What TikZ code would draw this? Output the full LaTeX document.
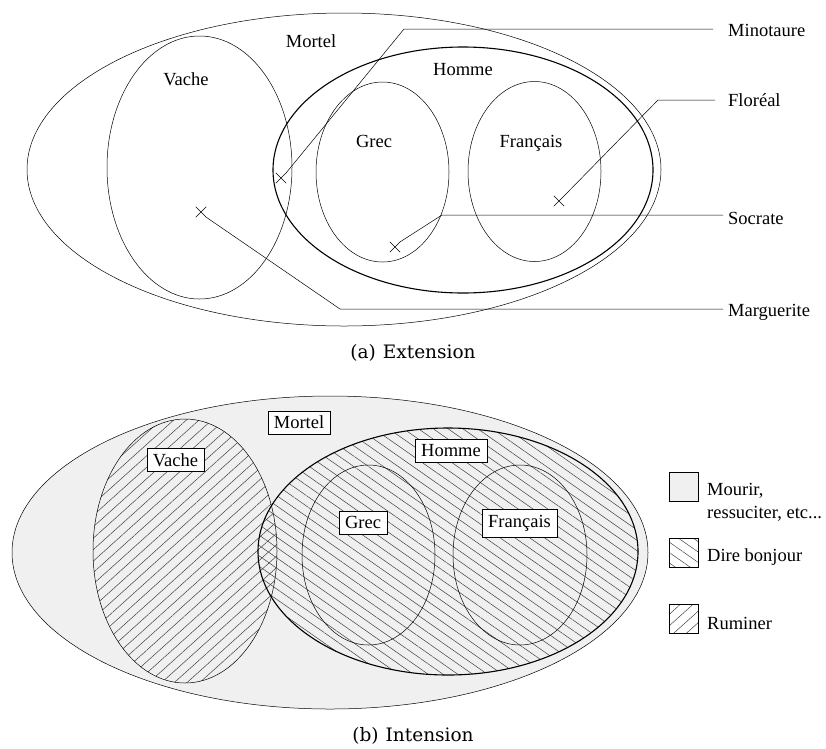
\documentclass[tikz,border=0pt]{standalone}
\usepackage{fontspec}
\setmainfont{Liberation Serif}
\newfontfamily\capfont{DejaVu Serif}
\usetikzlibrary{patterns.meta,shapes.misc}
\begin{document}
\begin{tikzpicture}[x=1pt,y=-1pt,
  lbl/.style={font=\fontsize{18.5}{22}\selectfont, inner sep=0pt},
  boxlbl/.style={font=\fontsize{18.5}{22}\selectfont, draw, fill=white, inner xsep=6pt, inner ysep=0pt, minimum height=23pt},
  caption/.style={font=\capfont\fontsize{18.5}{22}\selectfont, inner sep=0pt},
  xmark/.style={cross out, draw, minimum size=10pt, inner sep=0pt},
  set/.style={draw=black, line width=0.5pt},
  homme/.style={draw=black, line width=1.1pt},
  nehatch/.style={pattern={Lines[angle=42,distance=8.5pt,line width=0.5pt]}, pattern color=black!75},
  nwhatch/.style={pattern={Lines[angle=-35,distance=8.5pt,line width=0.5pt]}, pattern color=black!75},
  mortelfill/.style={fill=black!6}
]
\useasboundingbox (0,0) rectangle (826,748);

% ---------------- (a) Extension ----------------
\draw[set] (344,169.5) ellipse [x radius=317, y radius=156.5];
\draw[set] (199.5,167.5) ellipse [x radius=92.5, y radius=131.5];
\draw[homme] (463,170) ellipse [x radius=190, y radius=123];
\draw[set] (382.5,172) ellipse [x radius=66.5, y radius=90];
\draw[set] (534.5,171.5) ellipse [x radius=66.5, y radius=90];

\node[lbl, anchor=base] (aMortel) at (311,47) {Mortel};
\node[lbl, anchor=base] (aVache) at (186,85) {Vache};
\node[lbl, anchor=base] (aHomme) at (463,75) {Homme};
\node[lbl, anchor=base] (aGrec) at (374,147) {Grec};
\node[lbl, anchor=base] (aFr) at (531,147) {Français};

\node[xmark] (xMino) at (281,178) {};
\node[xmark] (xMarg) at (201,212) {};
\node[xmark] (xSocr) at (395,247) {};
\node[xmark] (xFlor) at (559,201) {};

\node[lbl, anchor=base west] (lMino) at (728,36) {Minotaure};
\node[lbl, anchor=base west] (lFlor) at (728,106) {Floréal};
\node[lbl, anchor=base west] (lSocr) at (728,224) {Socrate};
\node[lbl, anchor=base west] (lMarg) at (728,316) {Marguerite};

\coordinate (eMino) at (713,29);
\coordinate (eFlor) at (715,100);
\coordinate (eSocr) at (723,215);
\coordinate (eMarg) at (723,309);

\draw[set] (xMino.north east) -- (404,29) -- (eMino);
\draw[set] (xFlor.north east) -- (658,100) -- (eFlor);
\draw[set] (xSocr.north east) -- (442,215) -- (eSocr);
\draw[set] (xMarg.south east) -- (340,309) -- (eMarg);

\node[caption] (capA) at (413,353) {(a)\hspace{7pt}Extension};

% ---------------- (b) Intension ----------------
\draw[set, mortelfill] (330,552.5) ellipse [x radius=318, y radius=156.5];
\path[nehatch] (185,551) ellipse [x radius=92, y radius=132];
\draw[set] (185,551) ellipse [x radius=92, y radius=132];
\path[nwhatch] (448,551.5) ellipse [x radius=190, y radius=123.5];
\draw[homme] (448,551.5) ellipse [x radius=190, y radius=123.5];
\draw[set] (368.5,555) ellipse [x radius=66.5, y radius=90];
\draw[set] (520,555) ellipse [x radius=67, y radius=90];

\node[boxlbl] (bMortel) at (299,422.5) {Mortel};
\node[boxlbl] (bVache) at (175.5,460) {Vache};
\node[boxlbl] (bHomme) at (451,450.5) {Homme};
\node[boxlbl] (bGrec) at (363,522.5) {Grec};
\node[boxlbl, minimum height=28pt] (bFr) at (519.5,523) {Français};

% legend
\node[draw, mortelfill, minimum size=29pt, inner sep=0pt] (lg1) at (683.5,486.5) {};
\node[draw, nwhatch, minimum size=29pt, inner sep=0pt] (lg2) at (683.5,553) {};
\node[draw, nehatch, minimum size=29pt, inner sep=0pt] (lg3) at (683.5,619) {};
\node[lbl, anchor=west, align=left, font=\fontsize{18.5}{23}\selectfont] (lt1) at (707,502) {Mourir,\\ressuciter, etc...};
\node[lbl, anchor=base west] (lt2) at (707,561) {Dire bonjour};
\node[lbl, anchor=base west] (lt3) at (707,629) {Ruminer};

\node[caption] (capB) at (413,736) {(b)\hspace{7pt}Intension};
\end{tikzpicture}
\end{document}
